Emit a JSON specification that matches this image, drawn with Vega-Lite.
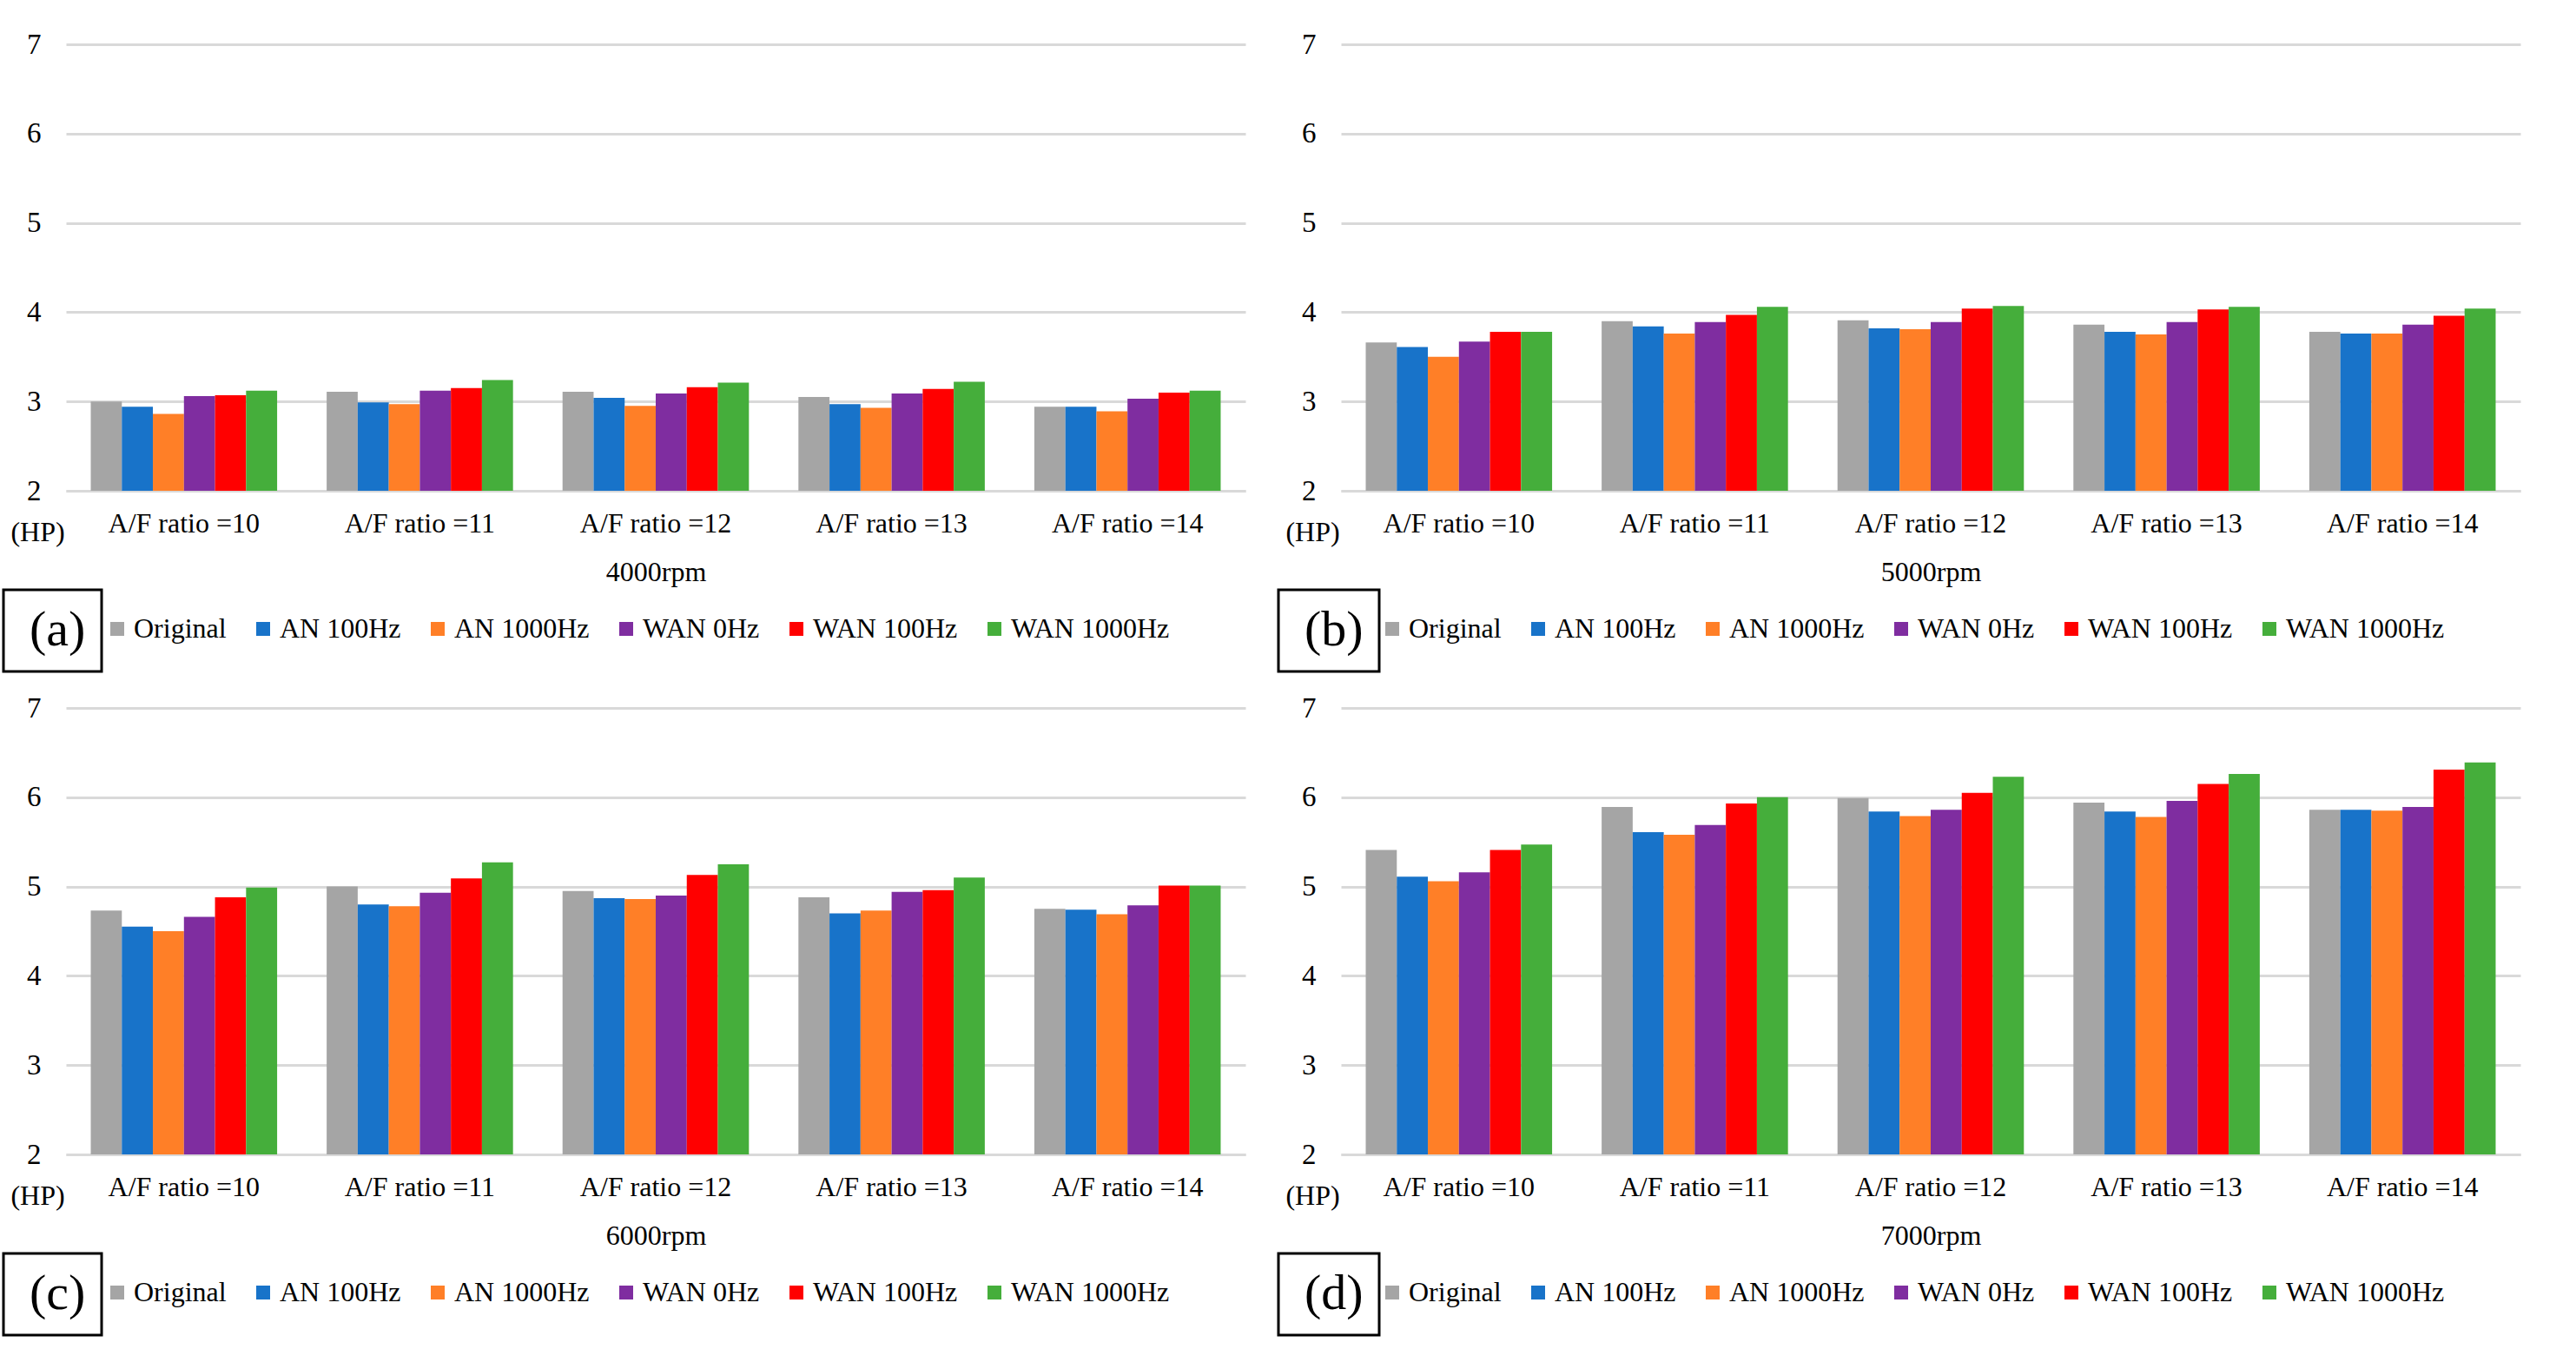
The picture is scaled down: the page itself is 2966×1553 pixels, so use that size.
{
 "$schema": "https://vega.github.io/schema/vega-lite/v6.json",
 "background": "white",
 "padding": {"left": 2, "top": 35, "right": 5, "bottom": 5},
 "datasets": {
  "hp": [
   {"rpm":"4000rpm","af":"A/F ratio =10","series":"Original","hp":3.00},
   {"rpm":"4000rpm","af":"A/F ratio =10","series":"AN 100Hz","hp":2.94},
   {"rpm":"4000rpm","af":"A/F ratio =10","series":"AN 1000Hz","hp":2.86},
   {"rpm":"4000rpm","af":"A/F ratio =10","series":"WAN 0Hz","hp":3.06},
   {"rpm":"4000rpm","af":"A/F ratio =10","series":"WAN 100Hz","hp":3.07},
   {"rpm":"4000rpm","af":"A/F ratio =10","series":"WAN 1000Hz","hp":3.12},
   {"rpm":"4000rpm","af":"A/F ratio =11","series":"Original","hp":3.11},
   {"rpm":"4000rpm","af":"A/F ratio =11","series":"AN 100Hz","hp":2.99},
   {"rpm":"4000rpm","af":"A/F ratio =11","series":"AN 1000Hz","hp":2.97},
   {"rpm":"4000rpm","af":"A/F ratio =11","series":"WAN 0Hz","hp":3.12},
   {"rpm":"4000rpm","af":"A/F ratio =11","series":"WAN 100Hz","hp":3.15},
   {"rpm":"4000rpm","af":"A/F ratio =11","series":"WAN 1000Hz","hp":3.24},
   {"rpm":"4000rpm","af":"A/F ratio =12","series":"Original","hp":3.11},
   {"rpm":"4000rpm","af":"A/F ratio =12","series":"AN 100Hz","hp":3.04},
   {"rpm":"4000rpm","af":"A/F ratio =12","series":"AN 1000Hz","hp":2.95},
   {"rpm":"4000rpm","af":"A/F ratio =12","series":"WAN 0Hz","hp":3.09},
   {"rpm":"4000rpm","af":"A/F ratio =12","series":"WAN 100Hz","hp":3.16},
   {"rpm":"4000rpm","af":"A/F ratio =12","series":"WAN 1000Hz","hp":3.21},
   {"rpm":"4000rpm","af":"A/F ratio =13","series":"Original","hp":3.05},
   {"rpm":"4000rpm","af":"A/F ratio =13","series":"AN 100Hz","hp":2.97},
   {"rpm":"4000rpm","af":"A/F ratio =13","series":"AN 1000Hz","hp":2.93},
   {"rpm":"4000rpm","af":"A/F ratio =13","series":"WAN 0Hz","hp":3.09},
   {"rpm":"4000rpm","af":"A/F ratio =13","series":"WAN 100Hz","hp":3.14},
   {"rpm":"4000rpm","af":"A/F ratio =13","series":"WAN 1000Hz","hp":3.22},
   {"rpm":"4000rpm","af":"A/F ratio =14","series":"Original","hp":2.94},
   {"rpm":"4000rpm","af":"A/F ratio =14","series":"AN 100Hz","hp":2.94},
   {"rpm":"4000rpm","af":"A/F ratio =14","series":"AN 1000Hz","hp":2.89},
   {"rpm":"4000rpm","af":"A/F ratio =14","series":"WAN 0Hz","hp":3.03},
   {"rpm":"4000rpm","af":"A/F ratio =14","series":"WAN 100Hz","hp":3.10},
   {"rpm":"4000rpm","af":"A/F ratio =14","series":"WAN 1000Hz","hp":3.12},
   {"rpm":"5000rpm","af":"A/F ratio =10","series":"Original","hp":3.66},
   {"rpm":"5000rpm","af":"A/F ratio =10","series":"AN 100Hz","hp":3.61},
   {"rpm":"5000rpm","af":"A/F ratio =10","series":"AN 1000Hz","hp":3.50},
   {"rpm":"5000rpm","af":"A/F ratio =10","series":"WAN 0Hz","hp":3.67},
   {"rpm":"5000rpm","af":"A/F ratio =10","series":"WAN 100Hz","hp":3.78},
   {"rpm":"5000rpm","af":"A/F ratio =10","series":"WAN 1000Hz","hp":3.78},
   {"rpm":"5000rpm","af":"A/F ratio =11","series":"Original","hp":3.90},
   {"rpm":"5000rpm","af":"A/F ratio =11","series":"AN 100Hz","hp":3.84},
   {"rpm":"5000rpm","af":"A/F ratio =11","series":"AN 1000Hz","hp":3.76},
   {"rpm":"5000rpm","af":"A/F ratio =11","series":"WAN 0Hz","hp":3.89},
   {"rpm":"5000rpm","af":"A/F ratio =11","series":"WAN 100Hz","hp":3.97},
   {"rpm":"5000rpm","af":"A/F ratio =11","series":"WAN 1000Hz","hp":4.06},
   {"rpm":"5000rpm","af":"A/F ratio =12","series":"Original","hp":3.91},
   {"rpm":"5000rpm","af":"A/F ratio =12","series":"AN 100Hz","hp":3.82},
   {"rpm":"5000rpm","af":"A/F ratio =12","series":"AN 1000Hz","hp":3.81},
   {"rpm":"5000rpm","af":"A/F ratio =12","series":"WAN 0Hz","hp":3.89},
   {"rpm":"5000rpm","af":"A/F ratio =12","series":"WAN 100Hz","hp":4.04},
   {"rpm":"5000rpm","af":"A/F ratio =12","series":"WAN 1000Hz","hp":4.07},
   {"rpm":"5000rpm","af":"A/F ratio =13","series":"Original","hp":3.86},
   {"rpm":"5000rpm","af":"A/F ratio =13","series":"AN 100Hz","hp":3.78},
   {"rpm":"5000rpm","af":"A/F ratio =13","series":"AN 1000Hz","hp":3.75},
   {"rpm":"5000rpm","af":"A/F ratio =13","series":"WAN 0Hz","hp":3.89},
   {"rpm":"5000rpm","af":"A/F ratio =13","series":"WAN 100Hz","hp":4.03},
   {"rpm":"5000rpm","af":"A/F ratio =13","series":"WAN 1000Hz","hp":4.06},
   {"rpm":"5000rpm","af":"A/F ratio =14","series":"Original","hp":3.78},
   {"rpm":"5000rpm","af":"A/F ratio =14","series":"AN 100Hz","hp":3.76},
   {"rpm":"5000rpm","af":"A/F ratio =14","series":"AN 1000Hz","hp":3.76},
   {"rpm":"5000rpm","af":"A/F ratio =14","series":"WAN 0Hz","hp":3.86},
   {"rpm":"5000rpm","af":"A/F ratio =14","series":"WAN 100Hz","hp":3.96},
   {"rpm":"5000rpm","af":"A/F ratio =14","series":"WAN 1000Hz","hp":4.04},
   {"rpm":"6000rpm","af":"A/F ratio =10","series":"Original","hp":4.73},
   {"rpm":"6000rpm","af":"A/F ratio =10","series":"AN 100Hz","hp":4.55},
   {"rpm":"6000rpm","af":"A/F ratio =10","series":"AN 1000Hz","hp":4.50},
   {"rpm":"6000rpm","af":"A/F ratio =10","series":"WAN 0Hz","hp":4.66},
   {"rpm":"6000rpm","af":"A/F ratio =10","series":"WAN 100Hz","hp":4.88},
   {"rpm":"6000rpm","af":"A/F ratio =10","series":"WAN 1000Hz","hp":4.99},
   {"rpm":"6000rpm","af":"A/F ratio =11","series":"Original","hp":5.00},
   {"rpm":"6000rpm","af":"A/F ratio =11","series":"AN 100Hz","hp":4.80},
   {"rpm":"6000rpm","af":"A/F ratio =11","series":"AN 1000Hz","hp":4.78},
   {"rpm":"6000rpm","af":"A/F ratio =11","series":"WAN 0Hz","hp":4.93},
   {"rpm":"6000rpm","af":"A/F ratio =11","series":"WAN 100Hz","hp":5.09},
   {"rpm":"6000rpm","af":"A/F ratio =11","series":"WAN 1000Hz","hp":5.27},
   {"rpm":"6000rpm","af":"A/F ratio =12","series":"Original","hp":4.95},
   {"rpm":"6000rpm","af":"A/F ratio =12","series":"AN 100Hz","hp":4.87},
   {"rpm":"6000rpm","af":"A/F ratio =12","series":"AN 1000Hz","hp":4.86},
   {"rpm":"6000rpm","af":"A/F ratio =12","series":"WAN 0Hz","hp":4.90},
   {"rpm":"6000rpm","af":"A/F ratio =12","series":"WAN 100Hz","hp":5.13},
   {"rpm":"6000rpm","af":"A/F ratio =12","series":"WAN 1000Hz","hp":5.25},
   {"rpm":"6000rpm","af":"A/F ratio =13","series":"Original","hp":4.88},
   {"rpm":"6000rpm","af":"A/F ratio =13","series":"AN 100Hz","hp":4.70},
   {"rpm":"6000rpm","af":"A/F ratio =13","series":"AN 1000Hz","hp":4.73},
   {"rpm":"6000rpm","af":"A/F ratio =13","series":"WAN 0Hz","hp":4.94},
   {"rpm":"6000rpm","af":"A/F ratio =13","series":"WAN 100Hz","hp":4.96},
   {"rpm":"6000rpm","af":"A/F ratio =13","series":"WAN 1000Hz","hp":5.10},
   {"rpm":"6000rpm","af":"A/F ratio =14","series":"Original","hp":4.75},
   {"rpm":"6000rpm","af":"A/F ratio =14","series":"AN 100Hz","hp":4.74},
   {"rpm":"6000rpm","af":"A/F ratio =14","series":"AN 1000Hz","hp":4.69},
   {"rpm":"6000rpm","af":"A/F ratio =14","series":"WAN 0Hz","hp":4.79},
   {"rpm":"6000rpm","af":"A/F ratio =14","series":"WAN 100Hz","hp":5.01},
   {"rpm":"6000rpm","af":"A/F ratio =14","series":"WAN 1000Hz","hp":5.01},
   {"rpm":"7000rpm","af":"A/F ratio =10","series":"Original","hp":5.41},
   {"rpm":"7000rpm","af":"A/F ratio =10","series":"AN 100Hz","hp":5.11},
   {"rpm":"7000rpm","af":"A/F ratio =10","series":"AN 1000Hz","hp":5.06},
   {"rpm":"7000rpm","af":"A/F ratio =10","series":"WAN 0Hz","hp":5.16},
   {"rpm":"7000rpm","af":"A/F ratio =10","series":"WAN 100Hz","hp":5.41},
   {"rpm":"7000rpm","af":"A/F ratio =10","series":"WAN 1000Hz","hp":5.47},
   {"rpm":"7000rpm","af":"A/F ratio =11","series":"Original","hp":5.89},
   {"rpm":"7000rpm","af":"A/F ratio =11","series":"AN 100Hz","hp":5.61},
   {"rpm":"7000rpm","af":"A/F ratio =11","series":"AN 1000Hz","hp":5.58},
   {"rpm":"7000rpm","af":"A/F ratio =11","series":"WAN 0Hz","hp":5.69},
   {"rpm":"7000rpm","af":"A/F ratio =11","series":"WAN 100Hz","hp":5.93},
   {"rpm":"7000rpm","af":"A/F ratio =11","series":"WAN 1000Hz","hp":6.00},
   {"rpm":"7000rpm","af":"A/F ratio =12","series":"Original","hp":5.99},
   {"rpm":"7000rpm","af":"A/F ratio =12","series":"AN 100Hz","hp":5.84},
   {"rpm":"7000rpm","af":"A/F ratio =12","series":"AN 1000Hz","hp":5.79},
   {"rpm":"7000rpm","af":"A/F ratio =12","series":"WAN 0Hz","hp":5.86},
   {"rpm":"7000rpm","af":"A/F ratio =12","series":"WAN 100Hz","hp":6.05},
   {"rpm":"7000rpm","af":"A/F ratio =12","series":"WAN 1000Hz","hp":6.23},
   {"rpm":"7000rpm","af":"A/F ratio =13","series":"Original","hp":5.94},
   {"rpm":"7000rpm","af":"A/F ratio =13","series":"AN 100Hz","hp":5.84},
   {"rpm":"7000rpm","af":"A/F ratio =13","series":"AN 1000Hz","hp":5.78},
   {"rpm":"7000rpm","af":"A/F ratio =13","series":"WAN 0Hz","hp":5.96},
   {"rpm":"7000rpm","af":"A/F ratio =13","series":"WAN 100Hz","hp":6.15},
   {"rpm":"7000rpm","af":"A/F ratio =13","series":"WAN 1000Hz","hp":6.26},
   {"rpm":"7000rpm","af":"A/F ratio =14","series":"Original","hp":5.86},
   {"rpm":"7000rpm","af":"A/F ratio =14","series":"AN 100Hz","hp":5.86},
   {"rpm":"7000rpm","af":"A/F ratio =14","series":"AN 1000Hz","hp":5.85},
   {"rpm":"7000rpm","af":"A/F ratio =14","series":"WAN 0Hz","hp":5.89},
   {"rpm":"7000rpm","af":"A/F ratio =14","series":"WAN 100Hz","hp":6.31},
   {"rpm":"7000rpm","af":"A/F ratio =14","series":"WAN 1000Hz","hp":6.39}
  ]
 },
 "columns": 2,
 "spacing": {"row": 24, "column": 36},
 "resolve": {"scale": {"shape": "independent"}, "legend": {"color": "independent", "shape": "independent"}},
 "concat": [
  {"width": 1358, "height": 514, "layer": [
   {"data": {"name": "hp"}, "transform": [{"filter": "datum.rpm === '4000rpm'"}], "mark": {"type": "bar"},
    "encoding": {
     "x": {"field": "af", "type": "nominal", "sort": null, "scale": {"paddingInner": 0.21, "paddingOuter": 0.105}, "axis": {"title": "4000rpm"}},
     "xOffset": {"field": "series", "type": "nominal", "sort": ["Original","AN 100Hz","AN 1000Hz","WAN 0Hz","WAN 100Hz","WAN 1000Hz"], "scale": {"paddingInner": 0, "paddingOuter": 0}},
     "y": {"field": "hp", "type": "quantitative", "scale": {"domain": [2, 7], "nice": false, "zero": false}, "axis": {"title": "(HP)", "values": [2,3,4,5,6,7], "format": "d"}},
     "y2": {"datum": 2},
     "color": {"field": "series", "type": "nominal", "scale": {"domain": ["Original","AN 100Hz","AN 1000Hz","WAN 0Hz","WAN 100Hz","WAN 1000Hz"], "range": ["#A5A5A5","#1873C9","#FF7F27","#7F2DA0","#FF0000","#45AE3B"]},
      "legend": {"orient": "none", "legendX": 43, "legendY": 657, "direction": "horizontal", "columns": 6, "title": null, "symbolType": "square", "symbolSize": 256, "symbolStrokeWidth": 0, "labelFontSize": 32, "labelOffset": 3, "labelLimit": 500, "columnPadding": 26, "padding": 0, "labelColor": "#000000"}}
    }},
   {"data": {"values": [{"tag": "(a)"}]}, "mark": {"type": "point", "opacity": 0},
    "encoding": {"shape": {"field": "tag", "type": "nominal",
     "legend": {"orient": "none", "legendX": -72, "legendY": 628, "title": null, "strokeColor": "#000000", "padding": 18, "symbolSize": 0, "symbolOpacity": 0, "symbolStrokeWidth": 0, "labelFontSize": 58, "labelOffset": -46, "labelColor": "#000000", "labelExpr": "datum.label + '\u00a0'"}}}}
  ]},
  {"width": 1358, "height": 514, "layer": [
   {"data": {"name": "hp"}, "transform": [{"filter": "datum.rpm === '5000rpm'"}], "mark": {"type": "bar"},
    "encoding": {
     "x": {"field": "af", "type": "nominal", "sort": null, "scale": {"paddingInner": 0.21, "paddingOuter": 0.105}, "axis": {"title": "5000rpm"}},
     "xOffset": {"field": "series", "type": "nominal", "sort": ["Original","AN 100Hz","AN 1000Hz","WAN 0Hz","WAN 100Hz","WAN 1000Hz"], "scale": {"paddingInner": 0, "paddingOuter": 0}},
     "y": {"field": "hp", "type": "quantitative", "scale": {"domain": [2, 7], "nice": false, "zero": false}, "axis": {"title": "(HP)", "values": [2,3,4,5,6,7], "format": "d"}},
     "y2": {"datum": 2},
     "color": {"field": "series", "type": "nominal", "scale": {"domain": ["Original","AN 100Hz","AN 1000Hz","WAN 0Hz","WAN 100Hz","WAN 1000Hz"], "range": ["#A5A5A5","#1873C9","#FF7F27","#7F2DA0","#FF0000","#45AE3B"]},
      "legend": {"orient": "none", "legendX": 43, "legendY": 657, "direction": "horizontal", "columns": 6, "title": null, "symbolType": "square", "symbolSize": 256, "symbolStrokeWidth": 0, "labelFontSize": 32, "labelOffset": 3, "labelLimit": 500, "columnPadding": 26, "padding": 0, "labelColor": "#000000"}}
    }},
   {"data": {"values": [{"tag": "(b)"}]}, "mark": {"type": "point", "opacity": 0},
    "encoding": {"shape": {"field": "tag", "type": "nominal",
     "legend": {"orient": "none", "legendX": -72, "legendY": 628, "title": null, "strokeColor": "#000000", "padding": 18, "symbolSize": 0, "symbolOpacity": 0, "symbolStrokeWidth": 0, "labelFontSize": 58, "labelOffset": -46, "labelColor": "#000000", "labelExpr": "datum.label + '\u00a0'"}}}}
  ]},
  {"width": 1358, "height": 514, "layer": [
   {"data": {"name": "hp"}, "transform": [{"filter": "datum.rpm === '6000rpm'"}], "mark": {"type": "bar"},
    "encoding": {
     "x": {"field": "af", "type": "nominal", "sort": null, "scale": {"paddingInner": 0.21, "paddingOuter": 0.105}, "axis": {"title": "6000rpm"}},
     "xOffset": {"field": "series", "type": "nominal", "sort": ["Original","AN 100Hz","AN 1000Hz","WAN 0Hz","WAN 100Hz","WAN 1000Hz"], "scale": {"paddingInner": 0, "paddingOuter": 0}},
     "y": {"field": "hp", "type": "quantitative", "scale": {"domain": [2, 7], "nice": false, "zero": false}, "axis": {"title": "(HP)", "values": [2,3,4,5,6,7], "format": "d"}},
     "y2": {"datum": 2},
     "color": {"field": "series", "type": "nominal", "scale": {"domain": ["Original","AN 100Hz","AN 1000Hz","WAN 0Hz","WAN 100Hz","WAN 1000Hz"], "range": ["#A5A5A5","#1873C9","#FF7F27","#7F2DA0","#FF0000","#45AE3B"]},
      "legend": {"orient": "none", "legendX": 43, "legendY": 657, "direction": "horizontal", "columns": 6, "title": null, "symbolType": "square", "symbolSize": 256, "symbolStrokeWidth": 0, "labelFontSize": 32, "labelOffset": 3, "labelLimit": 500, "columnPadding": 26, "padding": 0, "labelColor": "#000000"}}
    }},
   {"data": {"values": [{"tag": "(c)"}]}, "mark": {"type": "point", "opacity": 0},
    "encoding": {"shape": {"field": "tag", "type": "nominal",
     "legend": {"orient": "none", "legendX": -72, "legendY": 628, "title": null, "strokeColor": "#000000", "padding": 18, "symbolSize": 0, "symbolOpacity": 0, "symbolStrokeWidth": 0, "labelFontSize": 58, "labelOffset": -46, "labelColor": "#000000", "labelExpr": "datum.label + '\u00a0'"}}}}
  ]},
  {"width": 1358, "height": 514, "layer": [
   {"data": {"name": "hp"}, "transform": [{"filter": "datum.rpm === '7000rpm'"}], "mark": {"type": "bar"},
    "encoding": {
     "x": {"field": "af", "type": "nominal", "sort": null, "scale": {"paddingInner": 0.21, "paddingOuter": 0.105}, "axis": {"title": "7000rpm"}},
     "xOffset": {"field": "series", "type": "nominal", "sort": ["Original","AN 100Hz","AN 1000Hz","WAN 0Hz","WAN 100Hz","WAN 1000Hz"], "scale": {"paddingInner": 0, "paddingOuter": 0}},
     "y": {"field": "hp", "type": "quantitative", "scale": {"domain": [2, 7], "nice": false, "zero": false}, "axis": {"title": "(HP)", "values": [2,3,4,5,6,7], "format": "d"}},
     "y2": {"datum": 2},
     "color": {"field": "series", "type": "nominal", "scale": {"domain": ["Original","AN 100Hz","AN 1000Hz","WAN 0Hz","WAN 100Hz","WAN 1000Hz"], "range": ["#A5A5A5","#1873C9","#FF7F27","#7F2DA0","#FF0000","#45AE3B"]},
      "legend": {"orient": "none", "legendX": 43, "legendY": 657, "direction": "horizontal", "columns": 6, "title": null, "symbolType": "square", "symbolSize": 256, "symbolStrokeWidth": 0, "labelFontSize": 32, "labelOffset": 3, "labelLimit": 500, "columnPadding": 26, "padding": 0, "labelColor": "#000000"}}
    }},
   {"data": {"values": [{"tag": "(d)"}]}, "mark": {"type": "point", "opacity": 0},
    "encoding": {"shape": {"field": "tag", "type": "nominal",
     "legend": {"orient": "none", "legendX": -72, "legendY": 628, "title": null, "strokeColor": "#000000", "padding": 18, "symbolSize": 0, "symbolOpacity": 0, "symbolStrokeWidth": 0, "labelFontSize": 58, "labelOffset": -46, "labelColor": "#000000", "labelExpr": "datum.label + '\u00a0'"}}}}
  ]}
 ],
 "config": {
  "font": "Liberation Serif",
  "view": {"stroke": null},
  "axis": {"labelFont": "Liberation Serif", "titleFont": "Liberation Serif", "labelFontSize": 32, "titleFontSize": 32, "titleFontWeight": "normal", "labelColor": "#000000", "titleColor": "#000000"},
  "axisX": {"ticks": false, "domainColor": "#D9D9D9", "domainWidth": 3, "labelAngle": 0, "labelPadding": 22, "titlePadding": 25, "grid": false},
  "axisY": {"ticks": false, "domain": false, "grid": true, "gridColor": "#D9D9D9", "gridWidth": 3, "labelPadding": 29, "labelFontSize": 33, "titleAngle": 0, "titleX": -33, "titleY": 561, "titleAlign": "center", "titleBaseline": "middle"},
  "legend": {"labelFont": "Liberation Serif", "strokeWidth": 3}
 }
}
